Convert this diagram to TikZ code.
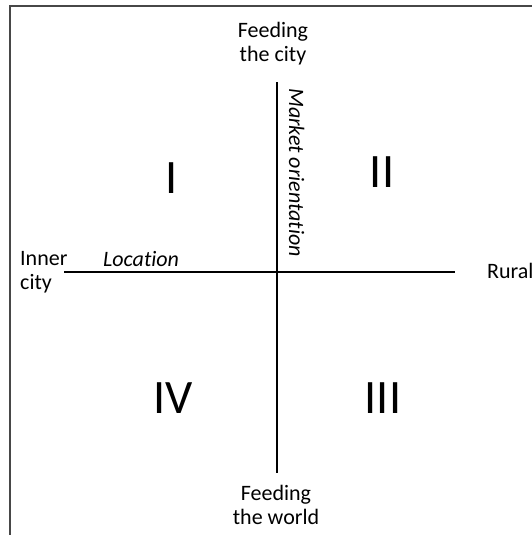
\documentclass[tikz,border=0pt]{standalone}
\usepackage{fontspec}
\setmainfont{Carlito}[Ligatures=NoCommon]
\begin{document}
\begin{tikzpicture}[x=1pt,y=-1pt,
  lbl/.style={inner sep=0pt, font=\fontsize{22}{24}\selectfont},
  numeral/.style={inner sep=0pt, font=\fontsize{48}{50}\selectfont},
  axis/.style={line width=2.4pt, black},
  frameline/.style={line width=1.6pt, draw=black!72}]
\useasboundingbox (0,0) rectangle (532,535);
% frame
\draw[frameline] (10,540) -- (10,6) -- (540,6);
% axes
\coordinate (left) at (64,272);
\coordinate (right) at (455,272);
\coordinate (top) at (277,82);
\coordinate (bottom) at (277,473);
\draw[axis] (left) -- (right);
\draw[axis] (top) -- (bottom);
% labels
\node[lbl, anchor=base, align=center] (city) at (273,61) {Feeding\\the city};
\node[lbl, anchor=base, align=center] (world) at (276,524) {Feeding\\the world};
\node[lbl, anchor=base west, align=left] (inner) at (20,289) {Inner\\city};
\node[lbl, anchor=base west] (loc) at (103,266) {\itshape Location};
\node[lbl, anchor=base west] (rural) at (487,278) {Rural};
\node[lbl, anchor=base west, rotate=-90] (market) at (289,88) {\itshape Market orientation};
% quadrants
\node[numeral] (q1) at (172,178) {I};
\node[numeral] (q2) at (382,172) {II};
\node[numeral] (q3) at (383,398) {III};
\node[numeral] (q4) at (173,398) {IV};
\end{tikzpicture}
\end{document}
